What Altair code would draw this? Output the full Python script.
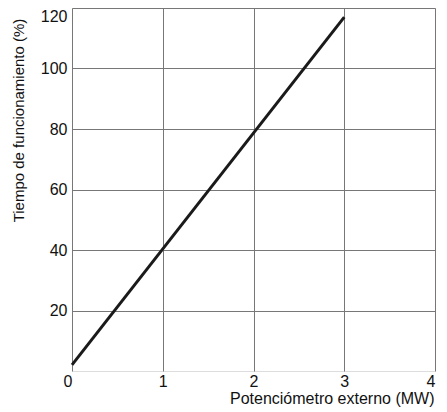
import altair as alt
import pandas as pd

x_vals = [0, 3]
y_vals = [2, 117]
x_ticks = [0, 1, 2, 3, 4]
y_ticks = [20, 40, 60, 80, 100, 120]

df = pd.DataFrame({"x": x_vals, "y": y_vals})

chart = alt.Chart(df).mark_line(color="#1a1a1a", strokeWidth=3).encode(
    x=alt.X("x:Q", scale=alt.Scale(domain=[0, 4], nice=False),
            axis=alt.Axis(values=x_ticks, title="Potenciómetro externo (MW)",
                          grid=True, gridColor="#777", gridWidth=1,
                          domain=False, ticks=False, labelPadding=2,
                          labelFlush=False,
                          labelAlign=alt.expr("datum.value == 0 || datum.value == 4 ? 'right' : 'center'"),
                          labelFontSize=16, labelColor="#111", labelFont="Liberation Sans",
                          titleFontSize=16, titleFontWeight="normal", titleColor="#111",
                          titleFont="Liberation Sans",
                          titleX=362, titleAlign="right", titleY=19, titleBaseline="top")),
    y=alt.Y("y:Q", scale=alt.Scale(domain=[0, 120], nice=False),
            axis=alt.Axis(values=y_ticks, title="Tiempo de funcionamiento (%)",
                          grid=True, gridColor="#777", gridWidth=1,
                          domain=False, ticks=False, labelPadding=5,
                          labelFlush=True,
                          labelFontSize=16, labelColor="#111", labelFont="Liberation Sans",
                          titleFontSize=15, titleFontWeight="normal", titleColor="#111",
                          titleFont="Liberation Sans",
                          titleX=-46, titleY=112, titleAlign="center", titleBaseline="bottom")),
).properties(
    width=363, height=363,
    autosize=alt.AutoSizeParams(type="none"),
    padding={"left": 64, "top": 0, "right": 4, "bottom": 40},
).configure_view(stroke="#111", strokeWidth=2).configure(background="white")

chart.save("out.html", embed_options={"renderer": "svg", "actions": False})
